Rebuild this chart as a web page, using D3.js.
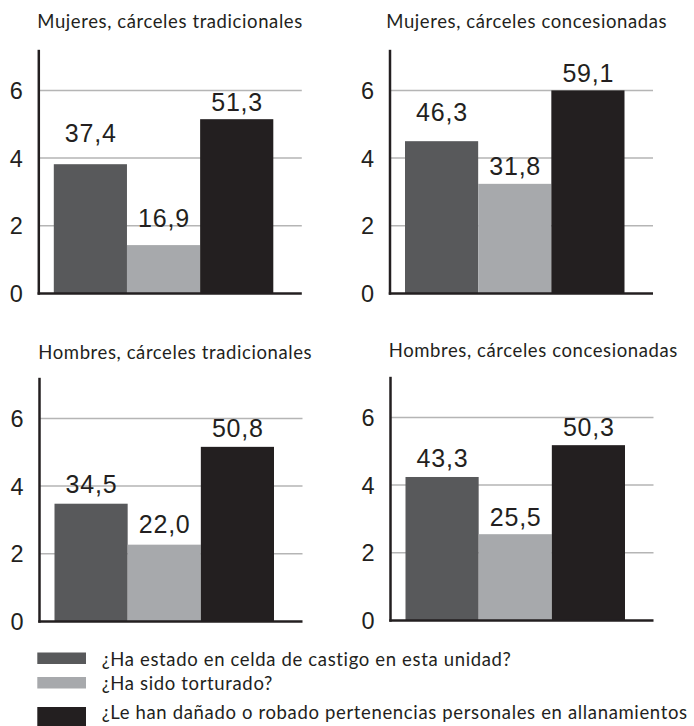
<!DOCTYPE html>
<html><head><meta charset="utf-8">
<script src="https://cdn.jsdelivr.net/npm/d3@7"></script>
<style>body{margin:0;background:#fff}svg{display:block}</style>
</head><body>
<script>
// ---- data ----
const panelTitles = ["Mujeres, cárceles tradicionales","Mujeres, cárceles concesionadas","Hombres, cárceles tradicionales","Hombres, cárceles concesionadas"];
const seriesNames = ["¿Ha estado en celda de castigo en esta unidad?","¿Ha sido torturado?","¿Le han dañado o robado pertenencias personales en allanamientos"];
const barHeights = [[3.82,1.43,5.15],[4.50,3.24,6.00],[3.48,2.27,5.16],[4.24,2.55,5.18]];
const valueLabels = [["37,4","16,9","51,3"],["46,3","31,8","59,1"],["34,5","22,0","50,8"],["43,3","25,5","50,3"]];
const yTicks = [0,2,4,6];
const yDomain = [0,7.2];

// ---- style / layout ----
const colors = ["#58595b","#a7a9ac","#231f20"];
const ink = "#231f20";
const textFont = "Lato, 'Open Sans', sans-serif";
const numFont = "'Liberation Sans', Arial, sans-serif";
const labelGap = [[22,18,8],[20,9,8],[11,12,10],[10,8,9]];
const layout = [
  {ax:38.8, y0:293.5, tx:37.3, ty:28},
  {ax:390,  y0:293.5, tx:386.3, ty:28},
  {ax:39.5, y0:621.5, tx:38.3, ty:359},
  {ax:390.5,y0:620.5, tx:388.7, ty:357}
];
const W = 694, H = 726;
const svg = d3.select("body").append("svg").attr("width",W).attr("height",H);

panelTitles.forEach((title,i)=>{
  const L = layout[i];
  const g = svg.append("g");
  const y = d3.scaleLinear().domain(yDomain).range([L.y0, L.y0-243.7]);
  const x = d3.scaleBand().domain(seriesNames).range([L.ax+15, L.ax+234.5]).paddingInner(0).paddingOuter(0);
  const gridEnd = L.ax+263;

  g.append("text").attr("x",L.tx).attr("y",L.ty)
    .attr("font-family",textFont).attr("font-size",18.5).attr("letter-spacing","0.6px")
    .attr("fill",ink).text(title);

  // gridlines
  g.selectAll("line.grid").data(yTicks.filter(t=>t>0)).join("line")
    .attr("x1",L.ax).attr("x2",gridEnd)
    .attr("y1",d=>y(d)).attr("y2",d=>y(d))
    .attr("stroke","#b5b5b5").attr("stroke-width",1.5);

  // tick labels
  g.selectAll("text.tick").data(yTicks).join("text")
    .attr("x",L.ax-16).attr("y",d=>y(d)).attr("dy","0.36em")
    .attr("text-anchor","end")
    .attr("font-family",numFont).attr("font-size",23.5)
    .attr("fill",ink).text(d=>d);

  // bars
  g.selectAll("rect.bar").data(barHeights[i]).join("rect")
    .attr("x",(d,j)=>x(seriesNames[j])).attr("width",x.bandwidth())
    .attr("y",d=>y(d)).attr("height",d=>y(0)-y(d))
    .attr("fill",(d,j)=>colors[j]);

  // value labels
  g.selectAll("text.val").data(barHeights[i]).join("text")
    .attr("x",(d,j)=>x(seriesNames[j])+x.bandwidth()/2+0.4)
    .attr("y",(d,j)=>y(d)-labelGap[i][j])
    .attr("text-anchor","middle")
    .attr("font-family",numFont).attr("font-size",25)
    .attr("letter-spacing","0.8px")
    .attr("fill",ink).text((d,j)=>valueLabels[i][j]);

  // axes
  g.append("line").attr("x1",L.ax).attr("x2",L.ax).attr("y1",y(yDomain[1])).attr("y2",y(0)+1.2)
    .attr("stroke",ink).attr("stroke-width",2.5);
  g.append("line").attr("x1",L.ax-1.2).attr("x2",gridEnd).attr("y1",y(0)).attr("y2",y(0))
    .attr("stroke",ink).attr("stroke-width",2.5);
});

// legend
const legendY = [652.5, 677, 707];
const legendH = [11.5, 11.5, 19];
const legendBase = [666, 690, 719];
const lg = svg.append("g");
seriesNames.forEach((s,j)=>{
  lg.append("rect").attr("x",37.3).attr("y",legendY[j]).attr("width",48.7).attr("height",legendH[j]).attr("fill",colors[j]);
  lg.append("text").attr("x",101.7).attr("y",legendBase[j])
    .attr("font-family",textFont).attr("font-size",18.5).attr("letter-spacing","0.65px")
    .attr("fill",ink).text(s);
});
</script>
</body></html>
